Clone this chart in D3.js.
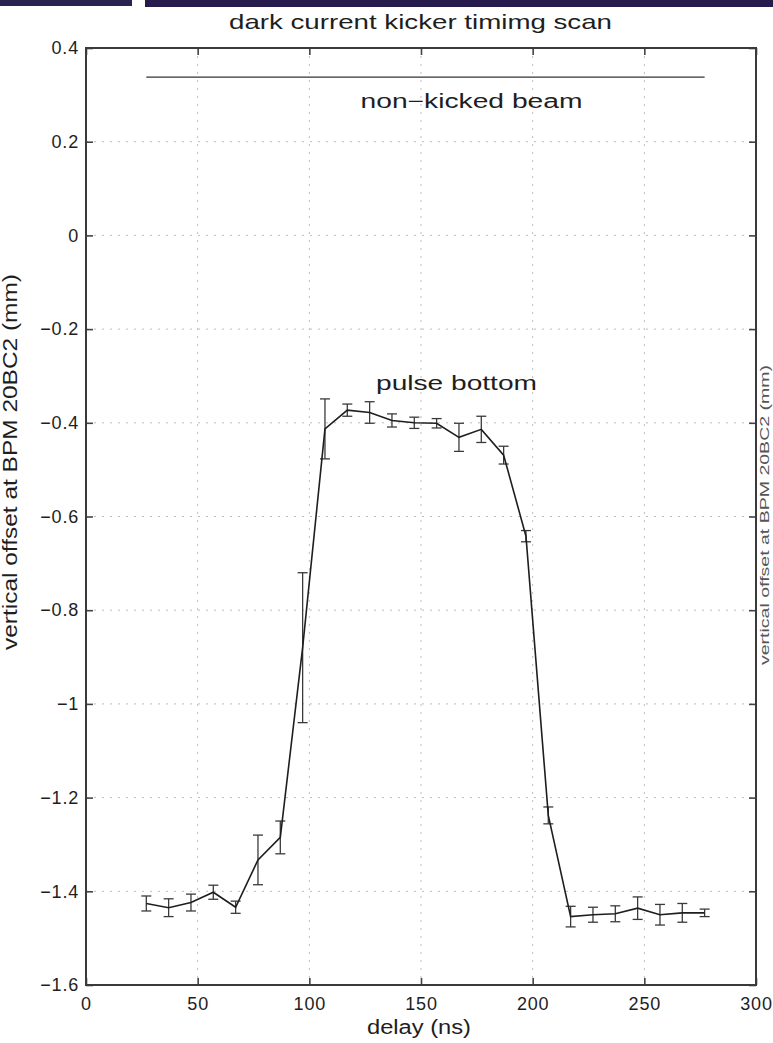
<!DOCTYPE html>
<html><head><meta charset="utf-8">
<script src="https://cdn.jsdelivr.net/npm/d3@7"></script>
<style>
body{margin:0;background:#fff;}
svg{display:block;font-family:"Liberation Sans",Arial,Helvetica,sans-serif;}
</style></head>
<body><svg id="c" width="773" height="1043"></svg>
<script>
// ---- data ----
const delays  = [27,37,47,57,67,77,87,97,107,117,127,137,147,157,167,177,187,197,207,217,227,237,247,257,267,277];
const offsets = [-1.426,-1.435,-1.424,-1.402,-1.434,-1.333,-1.285,-0.88,-0.413,-0.373,-0.378,-0.395,-0.400,-0.401,-0.431,-0.414,-0.469,-0.642,-1.238,-1.454,-1.450,-1.448,-1.436,-1.450,-1.446,-1.446];
const errors  = [0.016,0.019,0.018,0.015,0.013,0.053,0.035,0.16,0.064,0.013,0.023,0.014,0.012,0.010,0.030,0.028,0.019,0.012,0.018,0.022,0.016,0.017,0.024,0.022,0.020,0.008];
const referenceLevel = 0.338;
const referenceRange = [27, 277];
const xTicks = [0,50,100,150,200,250,300];
const yTicks = [-1.6,-1.4,-1.2,-1,-0.8,-0.6,-0.4,-0.2,0,0.2,0.4];
const titleText = "dark current kicker timimg scan";
const xLabel = "delay (ns)";
const yLabel = "vertical offset at BPM 20BC2 (mm)";

// ---- layout ----
const svg = d3.select("#c");
const L=86, R=756, T=48, B=985;
const x = d3.scaleLinear().domain([0,300]).range([L,R]);
const y = d3.scaleLinear().domain([-1.6,0.4]).range([B,T]);
const ink = "#1e1e1e";

// top banner
svg.append("rect").attr("x",0).attr("y",0).attr("width",132).attr("height",6).attr("fill","#2a2350");
svg.append("rect").attr("x",145).attr("y",0).attr("width",628).attr("height",7).attr("fill","#271a4d");

// grid
const grid = svg.append("g").attr("stroke","#bdbdbd").attr("stroke-width",1).attr("stroke-dasharray","2,6");
grid.selectAll(".gx").data(xTicks.slice(1,-1)).join("line")
  .attr("x1",d=>x(d)).attr("x2",d=>x(d)).attr("y1",T).attr("y2",B);
grid.selectAll(".gy").data(yTicks.slice(1,-1)).join("line")
  .attr("y1",d=>y(d)).attr("y2",d=>y(d)).attr("x1",L).attr("x2",R);

// axes
const fmt = d3.format("");
function styleAxis(g, showText){
  g.select(".domain").remove();
  g.selectAll(".tick line").attr("stroke","#444").attr("stroke-width",1.6);
  g.selectAll(".tick text").attr("fill",ink).attr("font-size",18).attr("letter-spacing",0.8)
    .style("display", showText ? null : "none");
}
svg.append("g").attr("transform",`translate(0,${B})`)
  .call(d3.axisBottom(x).tickValues(xTicks).tickSizeInner(-7).tickSizeOuter(0).tickPadding(12).tickFormat(fmt))
  .call(g=>styleAxis(g,true));
svg.append("g").attr("transform",`translate(0,${T})`)
  .call(d3.axisTop(x).tickValues(xTicks).tickSizeInner(-7).tickSizeOuter(0))
  .call(g=>styleAxis(g,false));
svg.append("g").attr("transform",`translate(${L},0)`)
  .call(d3.axisLeft(y).tickValues(yTicks).tickSizeInner(-7).tickSizeOuter(0).tickPadding(7).tickFormat(d3.format("")))
  .call(g=>styleAxis(g,true));
svg.append("g").attr("transform",`translate(${R},0)`)
  .call(d3.axisRight(y).tickValues(yTicks).tickSizeInner(-7).tickSizeOuter(0))
  .call(g=>styleAxis(g,false));

// box
svg.append("rect").attr("x",L).attr("y",T).attr("width",R-L).attr("height",B-T)
  .attr("fill","none").attr("stroke","#3a3a3a").attr("stroke-width",2);

// reference (non-kicked beam) line
svg.append("line").attr("x1",x(referenceRange[0])).attr("x2",x(referenceRange[1]))
  .attr("y1",y(referenceLevel)).attr("y2",y(referenceLevel))
  .attr("stroke","#333").attr("stroke-width",1.2);

// data
const pts = delays.map((d,i)=>({d, v:offsets[i], e:errors[i]}));
const eb = svg.append("g").attr("stroke","#3a3a3a").attr("stroke-width",1.3).attr("fill","none");
pts.forEach(p=>{
  const cx=x(p.d), y1=y(p.v-p.e), y2=y(p.v+p.e);
  eb.append("line").attr("x1",cx).attr("x2",cx).attr("y1",y1).attr("y2",y2);
  eb.append("line").attr("x1",cx-5).attr("x2",cx+5).attr("y1",y1).attr("y2",y1);
  eb.append("line").attr("x1",cx-5).attr("x2",cx+5).attr("y1",y2).attr("y2",y2);
});
svg.append("path").datum(pts)
  .attr("d",d3.line().x(p=>x(p.d)).y(p=>y(p.v)))
  .attr("fill","none").attr("stroke",ink).attr("stroke-width",1.6);

// texts
function txt(s, tx, ty, size, len, rot){
  const t = svg.append("text").attr("text-anchor","middle").attr("fill",ink)
    .attr("font-size",size).attr("textLength",len).attr("lengthAdjust","spacingAndGlyphs").text(s);
  if(rot){ t.attr("transform",`translate(${tx},${ty}) rotate(-90)`); }
  else { t.attr("x",tx).attr("y",ty); }
  return t;
}
txt(titleText, 420.5, 29, 21, 383);
txt("non\u2212kicked beam", 471.5, 108, 20, 222);
txt("pulse bottom", 456.5, 390, 20, 161);
txt(xLabel, 419, 1034, 20, 104);
txt(yLabel, 17, 462, 20, 376, true);
txt(yLabel, 769, 515, 12, 300, true).attr("fill","#555");
</script>
</body></html>
